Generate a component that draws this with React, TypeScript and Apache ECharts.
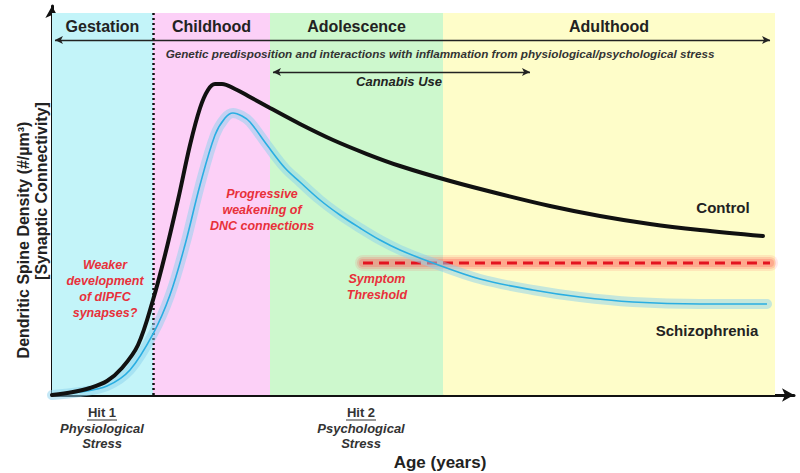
import React, { useEffect, useRef } from "react";
import * as echarts from "echarts";

// Life phases (x positions in arbitrary age units)
const phaseNames = ["Gestation", "Childhood", "Adolescence", "Adulthood"];
const phaseBounds = [0, 13.61, 29.38, 52.7, 97.44];
const phaseColors = ["#c3f4f9", "#fcd0f7", "#cdf8cd", "#fefdc9"];
const phaseTop = 98.2;

// Curves: [age, dendritic spine density]
const controlX = [0, 2.83, 5.12, 7.41, 9.43, 11.59, 13.61, 15.23, 16.98, 18.6, 19.95, 21.02, 21.97, 22.91, 24.66, 26.68, 29.38, 33.42, 37.87, 42.45, 46.9, 53.67, 60.38, 67.12, 73.85, 80.59, 87.33, 95.82];
const controlY = [0, 0.77, 1.8, 3.6, 6.94, 12.85, 24.42, 35.99, 50.13, 64.27, 73.78, 78.41, 79.95, 79.95, 78.66, 76.61, 73.78, 69.67, 65.55, 61.95, 58.87, 55.01, 51.67, 48.59, 46.02, 43.96, 42.42, 40.87];

const schizoX = [0, 3.77, 7.41, 10.51, 13.61, 15.9, 17.92, 19.95, 21.97, 23.32, 24.39, 25.61, 26.68, 28.98, 31.4, 33.42, 36.12, 38.81, 41.51, 44.2, 46.9, 51.35, 57.68, 64.82, 71.16, 78.3, 87.33, 96.36];
const schizoY = [0, 0.77, 2.31, 6.43, 15.68, 25.71, 38.56, 53.98, 66.84, 71.21, 72.49, 71.72, 70.18, 64.27, 58.35, 54.76, 50.13, 46.27, 42.93, 39.85, 37.28, 33.93, 29.82, 26.99, 25.19, 23.91, 23.39, 23.39];

const thresholdLevel = 33.93;
const thresholdRange = [41.91, 96.77];

const lifetimeArrow = { from: 0.4, to: 96.77, level: 91.26 };
const cannabisArrow = { from: 29.78, to: 64.42, level: 83.03 };

const FONT = "Liberation Sans, Arial, sans-serif";

export default function App() {
  const ref = useRef<HTMLDivElement>(null);
  useEffect(() => {
    if (!ref.current) return;
    const chart = echarts.init(ref.current, null, { renderer: "svg" });
    const control = controlX.map((x, i) => [x, controlY[i]]);
    const schizo = schizoX.map((x, i) => [x, schizoY[i]]);
    const threshold = [[thresholdRange[0], thresholdLevel], [thresholdRange[1], thresholdLevel]];
    const red = "#e8303a";
    const text = (t: string, x: number, y: number, o: any = {}) => ({
      type: "text",
      x,
      y,
      z: 100,
      rotation: o.rotation || 0,
      style: {
        text: t,
        fill: o.fill || "#222",
        fontSize: o.fontSize || 12,
        fontWeight: o.fontWeight || "bold",
        fontStyle: o.fontStyle || "normal",
        fontFamily: FONT,
        align: "center",
        verticalAlign: "middle",
        lineHeight: o.lineHeight || 16,
      },
    });
    const glowLayer = (w: number, a: number, z: number) => ({
      type: "line",
      data: threshold,
      symbol: "none",
      z,
      silent: true,
      lineStyle: { color: `rgba(255,70,70,${a})`, width: w, cap: "round" },
    });
    chart.setOption({
      animation: false,
      backgroundColor: "#ffffff",
      grid: { left: 52, right: 6, top: 6, bottom: 78 },
      xAxis: {
        type: "value",
        min: 0,
        max: 100,
        axisLine: { lineStyle: { color: "#111", width: 3 }, symbol: ["none", "arrow"], symbolSize: [10, 12] },
        axisTick: { show: false },
        axisLabel: { show: false },
        splitLine: { show: false },
      },
      yAxis: {
        type: "value",
        min: 0,
        max: 100,
        axisLine: { show: true, lineStyle: { color: "#111", width: 3 }, symbol: ["none", "arrow"], symbolSize: [10, 12] },
        axisTick: { show: false },
        axisLabel: { show: false },
        splitLine: { show: false },
      },
      series: [
        {
          type: "line",
          data: [[0, 0]],
          symbol: "none",
          lineStyle: { width: 0 },
          z: 0,
          markArea: {
            silent: true,
            data: phaseNames.map((n, i) => [
              {
                name: n,
                xAxis: phaseBounds[i],
                yAxis: 0,
                itemStyle: { color: phaseColors[i] },
                label: {
                  show: true,
                  position: "insideTop",
                  distance: 5,
                  fontSize: 16,
                  fontWeight: "bold",
                  fontFamily: FONT,
                  color: "#222",
                },
              },
              { xAxis: phaseBounds[i + 1], yAxis: phaseTop },
            ]),
          },
          markLine: {
            silent: true,
            symbol: ["none", "none"],
            label: { show: false },
            lineStyle: { color: "#111", width: 2.5, type: [2, 3] },
            data: [[{ coord: [phaseBounds[1], 0] }, { coord: [phaseBounds[1], phaseTop] }]],
          },
        },
        {
          type: "line",
          data: [[0, 0]],
          symbol: "none",
          lineStyle: { width: 0 },
          z: 5,
          markLine: {
            silent: true,
            symbol: ["arrow", "arrow"],
            symbolSize: [6, 8],
            label: { show: false },
            lineStyle: { color: "#222", width: 1.3, type: "solid" },
            data: [
              [{ coord: [lifetimeArrow.from, lifetimeArrow.level] }, { coord: [lifetimeArrow.to, lifetimeArrow.level] }],
              [{ coord: [cannabisArrow.from, cannabisArrow.level] }, { coord: [cannabisArrow.to, cannabisArrow.level] }],
            ],
          },
        },
        glowLayer(16, 0.12, 6),
        glowLayer(12, 0.18, 6),
        glowLayer(8, 0.25, 6),
        {
          name: "threshold",
          type: "line",
          data: threshold,
          symbol: "none",
          z: 7,
          lineStyle: { color: "#e3131f", width: 3, type: [10, 6] },
        },
        {
          name: "schizo-glow",
          type: "line",
          data: schizo,
          smooth: 0.35,
          symbol: "none",
          z: 8,
          lineStyle: { color: "rgba(140,210,238,0.5)", width: 10, cap: "round" },
        },
        {
          name: "Schizophrenia",
          type: "line",
          data: schizo,
          smooth: 0.35,
          symbol: "none",
          z: 9,
          lineStyle: { color: "#2aaee2", width: 1.6 },
        },
        {
          name: "Control",
          type: "line",
          data: control,
          smooth: 0.35,
          symbol: "none",
          z: 10,
          lineStyle: { color: "#111", width: 4, cap: "round" },
        },
      ],
      graphic: [
        text("Genetic predisposition and interactions with inflammation from physiological/psychological stress", 440, 53, { fontSize: 11.7, fontStyle: "italic", fill: "#333" }),
        text("Cannabis Use", 399, 81, { fontSize: 13, fontStyle: "italic", fill: "#222" }),
        text("Weaker\ndevelopment\nof dlPFC\nsynapses?", 105, 289, { fontSize: 12.5, fontStyle: "italic", fill: red, lineHeight: 16 }),
        text("Progressive\nweakening of\nDNC connections", 262, 210, { fontSize: 12.5, fontStyle: "italic", fill: red, lineHeight: 16 }),
        text("Symptom\nThreshold", 377, 287, { fontSize: 12.5, fontStyle: "italic", fill: red, lineHeight: 16 }),
        text("Control", 723, 207, { fontSize: 15 }),
        text("Schizophrenia", 707, 330, { fontSize: 15 }),
        text("Hit 1", 102, 412, { fontSize: 13, fill: "#333" }),
        text("Physiological\nStress", 102, 436, { fontSize: 13, fontStyle: "italic", fill: "#333", lineHeight: 15.5 }),
        text("Hit 2", 361, 412, { fontSize: 13, fill: "#333" }),
        text("Psychological\nStress", 361, 436, { fontSize: 13, fontStyle: "italic", fill: "#333", lineHeight: 15.5 }),
        { type: "line", z: 100, shape: { x1: 87, y1: 420, x2: 117, y2: 420 }, style: { stroke: "#333", lineWidth: 1 } },
        { type: "line", z: 100, shape: { x1: 346, y1: 420, x2: 376, y2: 420 }, style: { stroke: "#333", lineWidth: 1 } },
        text("Age (years)", 440, 462, { fontSize: 17 }),
        text("Dendritic Spine Density (#/µm³)", 23, 240, { fontSize: 16, rotation: Math.PI / 2 }),
        text("[Synaptic Connectivity]", 41, 191, { fontSize: 16, rotation: Math.PI / 2 }),
      ],
    });
    return () => chart.dispose();
  }, []);
  return <div ref={ref} style={{ position: "fixed", left: 0, top: 0, width: 800, height: 473 }} />;
}
